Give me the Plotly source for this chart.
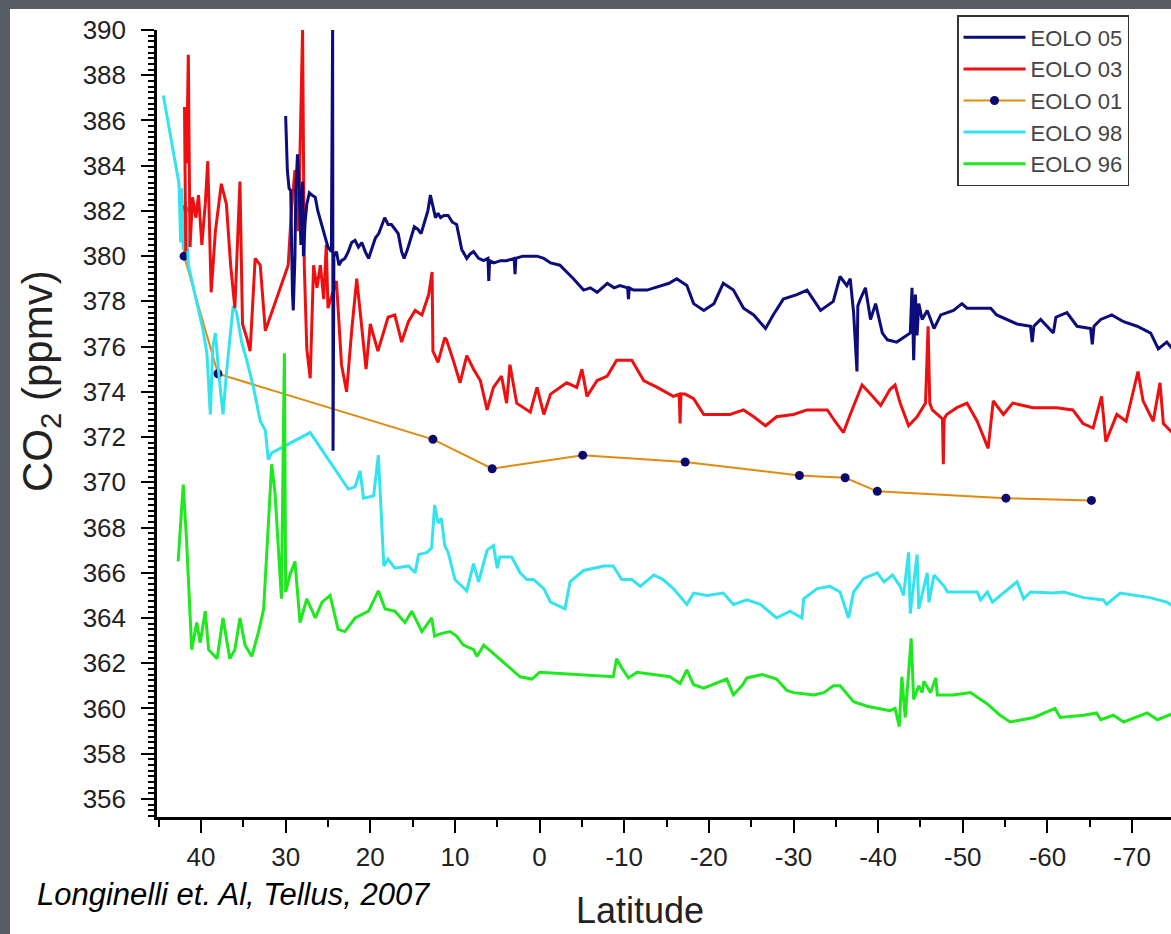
import plotly.graph_objects as go

# ---------------- data ----------------
lat_05 = [30.0, 29.9, 29.8, 29.6, 29.4, 29.2, 29.1, 28.9, 28.8, 28.6, 28.4, 28.2, 28.0, 27.9, 27.7, 27.5,
          27.2, 26.9, 26.5, 26.2, 25.8, 25.4, 25.0, 24.6, 24.45, 24.4, 24.3, 24.0, 23.7, 23.4, 23.0, 22.6,
          22.2, 21.8, 21.4, 21.0, 20.6, 20.2, 19.8, 19.4, 19.0, 18.6, 18.3, 17.9, 17.5, 17.1, 16.7, 16.3,
          16.0, 15.6, 15.2, 14.8, 14.4, 14.0, 13.6, 13.2, 12.9, 12.6, 12.3, 12.0, 11.7, 11.3, 10.8, 10.3,
          9.8, 9.2, 8.6, 8.2, 7.8, 7.2, 6.6, 6.1, 6.0, 5.9, 5.4, 4.6, 3.9, 3.0, 2.9, 2.8, 2.0, 1.0, 0.3,
          -0.5, -1.3, -2.4, -3.2, -4.0, -5.2, -6.0, -6.8, -8.0, -8.8, -9.5, -10.4, -10.5, -10.6, -11.1,
          -12.7, -14.3, -15.3, -16.2, -17.4, -18.2, -19.4, -20.6, -21.7, -22.9, -24.1, -25.3, -26.7,
          -27.6, -28.8, -30.4, -31.6, -33.2, -34.7, -35.5, -36.3, -36.7, -37.1, -37.5, -37.6, -37.9,
          -38.5, -39.1, -39.7, -40.5, -41.1, -42.2, -43.4, -43.8, -44.0, -44.2, -44.4, -44.6, -44.8,
          -45.2, -45.8, -46.6, -47.4, -48.9, -49.9, -50.5, -53.3, -54.0, -56.4, -58.0, -58.2, -58.4,
          -59.2, -60.7, -61.0, -62.3, -63.5, -65.1, -65.3, -65.5, -66.3, -67.6, -69.0, -70.6, -72.2,
          -73.1, -74.1, -75.0]
co2_05 = [386.2, 385.0, 383.8, 383.0, 382.9, 378.4, 377.6, 380.0, 382.9, 384.5, 383.0, 380.5, 383.3,
          380.0, 381.5, 382.3, 382.8, 382.7, 382.6, 382.0, 381.5, 381.0, 380.4, 380.2, 390.0, 371.4,
          380.0, 380.2, 379.6, 379.8, 379.9, 380.2, 380.6, 380.7, 380.4, 380.6, 380.2, 379.9, 380.4,
          380.8, 381.0, 381.4, 381.7, 381.4, 381.4, 381.2, 381.0, 380.2, 379.9, 380.3, 380.8, 381.3,
          381.2, 381.0, 381.5, 382.0, 382.7, 382.2, 381.7, 381.9, 381.7, 381.8, 381.8, 381.5, 381.4,
          380.3, 379.9, 380.1, 380.2, 379.9, 379.8, 379.9, 378.9, 379.8, 379.7, 379.8, 379.8, 379.9,
          379.2, 379.9, 380.0, 380.0, 380.0, 379.9, 379.7, 379.6, 379.3, 379.0, 378.5, 378.6, 378.4,
          378.8, 378.6, 378.7, 378.6, 378.1, 378.6, 378.5, 378.5, 378.7, 378.8, 379.0, 378.7, 377.9,
          377.6, 377.9, 378.8, 378.5, 377.7, 377.4, 376.8, 377.4, 378.1, 378.3, 378.5, 377.6, 378.0,
          379.1, 378.7, 379.0, 377.5, 374.9, 377.8, 378.1, 378.6, 377.2, 377.9, 376.6, 376.3, 376.2,
          376.5, 376.6, 378.6, 375.4, 378.3, 376.5, 377.9, 377.2, 377.6, 376.8, 377.4, 377.6, 377.9,
          377.7, 377.7, 377.4, 377.0, 376.9, 376.2, 376.9, 377.2, 376.6, 377.3, 377.5, 376.9, 376.8,
          376.1, 376.9, 377.2, 377.4, 377.1, 376.9, 376.6, 375.9, 376.2, 375.8]

lat_03 = [41.8, 41.95, 41.7, 41.5, 41.3, 41.0, 40.6, 40.3, 39.9, 39.5, 39.2, 38.8, 38.3, 37.6, 37.0,
          36.5, 36.0, 35.4, 35.1, 34.6, 34.2, 33.6, 33.0, 32.4, 29.7, 29.3, 28.9, 28.5, 28.0, 27.8, 27.5,
          27.1, 26.7, 26.3, 25.9, 25.5, 25.2, 25.0, 24.0, 23.4, 22.8, 22.2, 21.6, 21.0, 20.5, 20.0, 19.1,
          17.9, 17.1, 16.3, 15.5, 14.7, 13.9, 13.1, 12.7, 12.6, 12.0, 11.2, 11.0, 10.2, 9.4, 8.6, 7.8,
          7.0, 6.2, 5.45, 4.5, 3.9, 3.5, 2.7, 1.1, 0.3, -0.5, -1.3, -3.2, -4.4, -5.0, -5.6, -6.8, -8.0,
          -9.1, -10.9, -12.3, -13.9, -15.8, -16.5, -16.6, -16.7, -17.2, -18.2, -19.4, -20.9, -22.5,
          -24.1, -25.3, -26.7, -28.0, -30.0, -31.6, -32.4, -34.0, -34.9, -35.9, -36.7, -38.1, -39.1,
          -40.3, -41.4, -42.0, -42.6, -43.6, -44.6, -45.6, -45.9, -46.1, -46.4, -47.6, -47.7, -47.8,
          -48.1, -49.3, -50.5, -51.7, -53.0, -53.6, -54.8, -55.9, -58.3, -61.1, -63.0, -64.2, -65.4,
          -66.4, -66.9, -68.2, -69.3, -70.7, -71.3, -72.5, -73.3, -73.7, -75.0]
co2_03 = [380.2, 386.6, 384.1, 388.9, 380.4, 382.6, 381.7, 382.7, 380.5, 382.3, 384.2, 378.4, 381.1,
          383.2, 382.3, 379.6, 377.7, 383.3, 377.0, 376.4, 375.8, 379.9, 379.6, 376.7, 379.6, 382.1,
          383.8, 381.1, 390.0, 379.6, 375.9, 374.6, 379.6, 378.6, 379.6, 378.1, 380.5, 377.7, 378.9,
          375.2, 374.0, 376.7, 379.0, 376.7, 375.0, 377.0, 375.8, 377.3, 377.4, 376.2, 377.1, 377.6,
          377.4, 378.3, 379.3, 375.8, 375.3, 376.4, 376.3, 375.4, 374.4, 375.6, 375.0, 374.5, 373.2,
          374.2, 374.7, 373.5, 375.2, 373.5, 373.1, 374.2, 373.0, 373.9, 374.4, 374.2, 375.0, 373.8,
          374.5, 374.7, 375.4, 375.4, 374.5, 374.2, 373.8, 373.9, 372.6, 373.9, 373.9, 373.7, 373.0,
          373.0, 373.0, 373.2, 372.9, 372.5, 372.9, 373.0, 373.2, 373.2, 373.2, 372.7, 372.2, 373.0,
          374.3, 373.9, 373.4, 374.1, 374.3, 373.5, 372.5, 372.9, 373.5, 376.9, 373.5, 373.2, 372.8,
          370.8, 372.8, 373.0, 373.3, 373.5, 372.7, 371.5, 373.6, 373.0, 373.5, 373.3, 373.3, 373.2,
          372.6, 372.4, 373.8, 371.8, 373.0, 372.7, 374.9, 373.6, 372.7, 374.4, 372.6, 372.1]

lat_01 = [42.0, 42.0, 38.0, 12.6, 5.6, -5.1, -17.2, -30.7, -36.1, -39.9, -55.1, -65.2]
co2_01 = [382.05, 380.0, 374.8, 371.9, 370.6, 371.2, 370.9, 370.3, 370.2, 369.6, 369.3, 369.2]

lat_98 = [44.45, 43.5, 42.6, 42.4, 42.3, 42.1, 41.8, 41.5, 40.9, 40.3, 39.8, 39.3, 38.9, 38.6, 38.3,
          37.9, 37.4, 37.0, 36.6, 36.2, 35.8, 35.2, 34.6, 33.8, 33.0, 32.4, 32.05, 31.65, 27.1, 22.6,
          21.8, 21.2, 20.8, 19.6, 19.05, 18.4, 17.9, 17.1, 15.5, 14.7, 14.3, 13.3, 12.75, 12.4, 12.0,
          11.6, 11.2, 10.8, 10.0, 8.6, 7.8, 7.2, 6.2, 5.45, 5.0, 4.7, 3.3, 2.3, 1.5, 0.7, -0.5, -1.3,
          -3.0, -3.6, -5.2, -7.6, -8.7, -9.7, -10.9, -11.9, -13.5, -14.6, -15.8, -17.4, -18.2, -19.8,
          -21.7, -22.9, -24.5, -26.1, -28.0, -29.6, -31.0, -31.2, -32.8, -34.3, -35.5, -36.5, -37.1,
          -38.3, -39.9, -40.7, -41.7, -42.6, -43.0, -43.6, -43.8, -44.6, -44.8, -45.8, -46.0, -46.6,
          -47.8, -48.2, -51.7, -52.1, -52.9, -53.5, -56.4, -57.2, -58.0, -60.7, -61.9, -64.3, -66.6,
          -67.0, -68.6, -70.1, -72.1, -74.1, -75.0]
co2_98 = [387.1, 385.0, 383.2, 380.6, 383.0, 380.3, 382.4, 379.6, 378.6, 377.6, 376.8, 375.7, 373.0,
          376.0, 376.6, 374.8, 373.0, 374.8, 376.4, 377.8, 377.5, 376.2, 375.4, 374.2, 372.7, 372.3,
          371.0, 371.3, 372.2, 369.7, 369.8, 370.5, 369.3, 369.4, 371.2, 366.3, 366.6, 366.2, 366.3,
          366.0, 366.8, 366.9, 367.1, 369.0, 368.2, 368.4, 367.2, 366.9, 365.7, 365.2, 366.4, 365.6,
          367.0, 367.2, 366.2, 366.7, 366.7, 366.0, 365.7, 365.7, 365.3, 364.7, 364.4, 365.6, 366.1,
          366.3, 366.3, 365.7, 365.7, 365.4, 365.9, 365.7, 365.3, 364.6, 365.1, 365.0, 365.1, 364.6,
          364.8, 364.6, 364.0, 364.3, 364.0, 364.85, 365.3, 365.4, 365.15, 364.0, 365.15, 365.75,
          366.0, 365.6, 365.9, 365.4, 365.0, 366.9, 364.2, 366.8, 364.4, 366.0, 364.7, 365.9, 365.4,
          365.15, 365.15, 364.8, 365.15, 364.7, 365.6, 364.85, 365.15, 365.1, 365.15, 364.9, 364.8,
          364.6, 365.1, 365.0, 364.9, 364.7, 364.5]

lat_96 = [42.7, 42.1, 41.7, 41.3, 41.1, 40.5, 40.1, 39.5, 39.1, 38.1, 37.4, 36.6, 36.0, 35.4, 34.8,
          34.0, 33.2, 32.6, 31.65, 31.25, 30.9, 30.5, 30.15, 30.0, 29.5, 28.9, 28.3, 27.5, 26.5, 25.7,
          24.75, 23.8, 23.0, 21.8, 20.2, 19.05, 18.25, 17.1, 15.9, 15.1, 13.9, 12.75, 12.4, 11.75, 10.6,
          9.8, 9.0, 7.8, 7.4, 6.6, 2.3, 0.9, 0.0, -4.0, -8.7, -9.1, -9.7, -10.5, -11.5, -15.4, -16.6,
          -17.4, -18.2, -19.4, -22.1, -22.9, -23.9, -24.5, -26.3, -28.0, -29.2, -30.0, -32.4, -33.6,
          -34.7, -35.5, -37.1, -38.7, -41.4, -42.0, -42.5, -42.8, -43.2, -43.9, -44.2, -44.8, -45.2,
          -45.4, -46.2, -46.8, -47.0, -48.9, -50.9, -52.9, -54.4, -55.6, -58.4, -60.9, -61.5, -64.3,
          -65.8, -66.3, -67.8, -69.0, -71.8, -73.0, -75.0]
co2_96 = [366.5, 369.9, 367.4, 364.1, 362.6, 363.8, 362.9, 364.3, 362.6, 362.2, 364.0, 362.2, 362.6,
          364.0, 362.8, 362.3, 363.4, 364.4, 370.8, 369.5, 367.5, 364.85, 375.7, 365.15, 365.9, 366.5,
          363.8, 364.85, 364.0, 364.7, 365.0, 363.5, 363.4, 364.0, 364.3, 365.2, 364.4, 364.3, 363.8,
          364.3, 363.4, 364.0, 363.2, 363.3, 363.4, 363.2, 362.8, 362.6, 362.3, 362.8, 361.4, 361.3,
          361.6, 361.5, 361.4, 362.2, 361.8, 361.35, 361.6, 361.4, 361.1, 361.7, 361.05, 360.9, 361.3,
          360.6, 361.0, 361.35, 361.5, 361.3, 360.8, 360.7, 360.6, 360.7, 361.0, 361.0, 360.3, 360.1,
          359.9, 360.0, 359.2, 361.4, 359.6, 363.1, 360.4, 361.0, 360.7, 361.2, 360.7, 361.35, 360.6,
          360.6, 360.7, 360.2, 359.7, 359.4, 359.6, 360.0, 359.6, 359.7, 359.8, 359.5, 359.7, 359.4,
          359.8, 359.5, 359.8]

y_tickvals = list(range(356, 391, 2))
x_tickvals = list(range(40, -71, -10))
x_ticktext = [str(v) for v in x_tickvals]   # plain hyphen-minus, as in the reference

# ---------------- figure ----------------
FONT = "Liberation Sans, Arial, sans-serif"
fig = go.Figure()

fig.add_trace(go.Scatter(x=lat_01, y=co2_01, mode="lines+markers", name="EOLO 01",
                         line=dict(color="#e08a12", width=2),
                         marker=dict(color="#0a0a6e", size=9), legendrank=3, legendgroup="g3"))
fig.add_trace(go.Scatter(x=lat_98, y=co2_98, mode="lines", name="EOLO 98",
                         line=dict(color="#33e3ee", width=3), legendrank=4, legendgroup="g4"))
fig.add_trace(go.Scatter(x=lat_96, y=co2_96, mode="lines", name="EOLO 96",
                         line=dict(color="#1ee81e", width=3), legendrank=5, legendgroup="g5"))
fig.add_trace(go.Scatter(x=lat_03, y=co2_03, mode="lines", name="EOLO 03",
                         line=dict(color="#ee1010", width=3), legendrank=2, legendgroup="g2"))
fig.add_trace(go.Scatter(x=lat_05, y=co2_05, mode="lines", name="EOLO 05",
                         line=dict(color="#0c0c7a", width=3), legendrank=1, legendgroup="g1"))

axis_common = dict(
    showline=True, linecolor="black", linewidth=2.5, mirror=False,
    showgrid=False, zeroline=False, automargin=False,
    ticks="outside", tickcolor="black", tickwidth=2, ticklen=13,
    tickfont=dict(family=FONT, size=26, color="#222"),
)

fig.update_xaxes(range=[45.2, -74.6], tickmode="array", tickvals=x_tickvals, ticktext=x_ticktext,
                 ticklabelstandoff=2,
                 minor=dict(ticks="outside", dtick=5, tick0=0, ticklen=7, tickwidth=2, tickcolor="black"),
                 **axis_common)
fig.update_yaxes(range=[355.2, 390], tickmode="array", tickvals=y_tickvals,
                 ticklabelstandoff=10,
                 minor=dict(ticks="outside", dtick=0.25, tick0=356, ticklen=6, tickwidth=1.5, tickcolor="black"),
                 **axis_common)

W, H = 1171, 934
L, R, T, B = 157, 0, 30, 117
pw, ph = W - L - R, H - T - B


def px(x):
    return (x - L) / pw


def py(y):
    return (H - B - y) / ph


fig.add_shape(type="rect", xref="paper", yref="paper", layer="below",
              x0=px(10), x1=px(W + 20), y0=py(H + 20), y1=py(9),
              fillcolor="white", line=dict(width=0))

fig.add_annotation(xref="paper", yref="paper", x=px(40), y=py(381), text="CO<sub>2</sub> (ppmv)",
                   textangle=-90, showarrow=False, xanchor="center", yanchor="middle",
                   font=dict(family=FONT, size=42, color="#222"))
fig.add_annotation(xref="paper", yref="paper", x=px(640), y=py(910), text="Latitude",
                   showarrow=False, xanchor="center", yanchor="middle",
                   font=dict(family=FONT, size=36, color="#222"))
fig.add_annotation(xref="paper", yref="paper", x=px(35), y=py(894),
                   text="Longinelli et. Al, Tellus, 2007",
                   showarrow=False, xanchor="left", yanchor="middle",
                   font=dict(family=FONT, size=31, color="black", style="italic"))

fig.update_layout(
    width=W, height=H,
    margin=dict(l=L, r=R, t=T, b=B, autoexpand=False),
    paper_bgcolor="#565d66", plot_bgcolor="white",
    showlegend=True,
    legend=dict(x=px(957), y=py(15), xanchor="left", yanchor="top",
                bgcolor="white", bordercolor="#333", borderwidth=1.5,
                font=dict(family=FONT, size=22, color="#444"),
                tracegroupgap=0, itemwidth=62),
)

fig.write_html("out.html", config={"displayModeBar": False},
               post_script="document.body.style.margin='0';document.body.style.overflow='hidden';")
